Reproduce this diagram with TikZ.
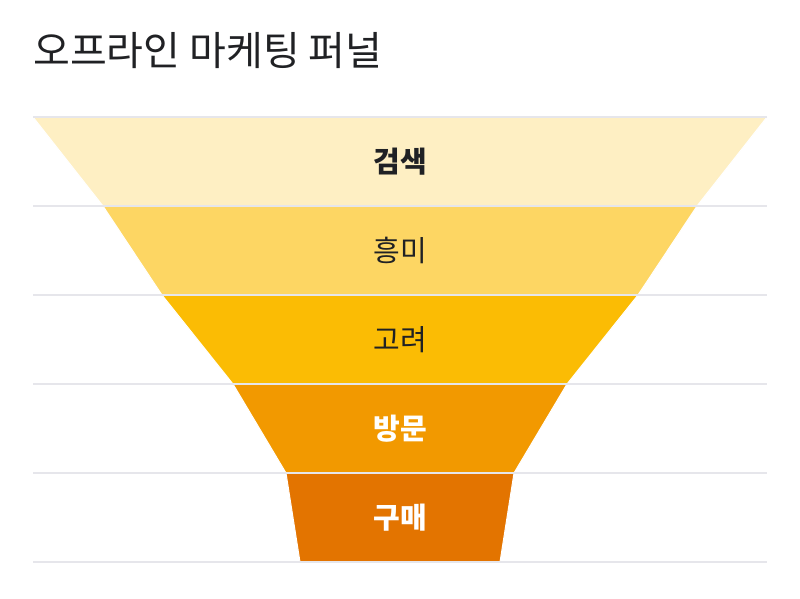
\documentclass[tikz,border=0pt]{standalone}
\usepackage{fontspec}
\setmainfont{Noto Sans CJK KR}
\definecolor{inktext}{HTML}{202124}
\definecolor{rulegray}{HTML}{E6E6EB}
\definecolor{searchfill}{HTML}{FEEFC3}
\definecolor{interestfill}{HTML}{FDD663}
\definecolor{considerfill}{HTML}{FBBC04}
\definecolor{visitfill}{HTML}{F29900}
\definecolor{buyfill}{HTML}{E37400}
\tikzset{%
title/.style={anchor=west, inner sep=0pt, text=inktext, font=\fontsize{40}{40}\selectfont},
stage/.style={draw=white, line width=1pt},
rule/.style={draw=rulegray, line width=2pt},
stagetext/.style={inner sep=0pt, text=inktext, font=\fontsize{29}{29}\selectfont},
stagebold/.style={stagetext, font=\fontsize{29}{29}\selectfont\bfseries},
stagewhite/.style={stagebold, text=white}
}

\begin{document}
\begin{tikzpicture}[x=1pt,y=-1pt]
\useasboundingbox[fill=white] (0,0) rectangle (800,598);
\node[title]  (head) at (33,51) {오프라인\hspace{9pt}마케팅\hspace{9pt}퍼널};

% funnel bands: top y / top half width / bottom half width / colour
\foreach \y/\t/\b/\c in {117/367/297/searchfill,
                         206/297/238/interestfill,
                         295/238/167/considerfill,
                         384/167/114/visitfill,
                         473/114/100/buyfill}
{
  \fill[stage,fill=\c] (400-\t,\y) -- (400+\t,\y) -- (400+\b,\y+89) -- (400-\b,\y+89) -- cycle;
}
\foreach \y in {117,206,295,384,473,562}
  \draw[rule] (33,\y) -- (767,\y);

\node[stagebold]  (search)   at (400,161.5) {검색};
\node[stagetext]  (interest) at (400,250.5) {흥미};
\node[stagetext]  (consider) at (400,339.5) {고려};
\node[stagewhite] (visit)    at (400,428.5) {방문};
\node[stagewhite] (buy)      at (400,517.5) {구매};
\end{tikzpicture}
\end{document}
